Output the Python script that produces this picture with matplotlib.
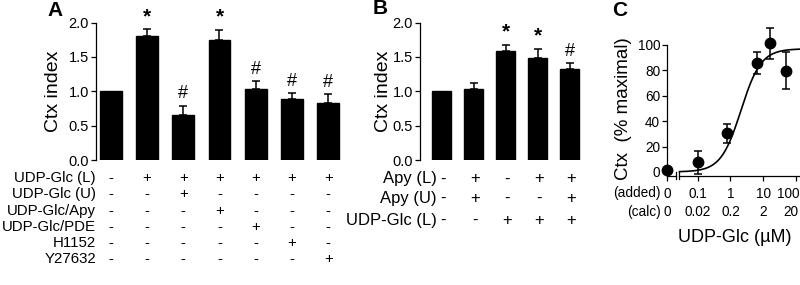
import numpy as np
import matplotlib
matplotlib.use('Agg')
import matplotlib.pyplot as plt
from matplotlib.transforms import blended_transform_factory

plt.rcParams['font.family'] = ['Liberation Sans', 'DejaVu Sans']
plt.rcParams['axes.linewidth'] = 0.9
plt.rcParams['xtick.major.width'] = 0.9
plt.rcParams['ytick.major.width'] = 0.9

# ---------------- data ----------------
# Panel A
a_values = [1.0, 1.81, 0.65, 1.74, 1.04, 0.89, 0.83]
a_errors = [0.0, 0.09, 0.14, 0.15, 0.11, 0.08, 0.13]
a_marks = ['', '*', '#', '*', '#', '#', '#']
a_rows = ['UDP-Glc (L)', 'UDP-Glc (U)', 'UDP-Glc/Apy', 'UDP-Glc/PDE', 'H1152', 'Y27632']
a_table = [
    ['-', '+', '+', '+', '+', '+', '+'],
    ['-', '-', '+', '-', '-', '-', '-'],
    ['-', '-', '-', '+', '-', '-', '-'],
    ['-', '-', '-', '-', '+', '-', '-'],
    ['-', '-', '-', '-', '-', '+', '-'],
    ['-', '-', '-', '-', '-', '-', '+'],
]

# Panel B
b_values = [1.0, 1.03, 1.59, 1.49, 1.33]
b_errors = [0.0, 0.09, 0.08, 0.13, 0.08]
b_marks = ['', '', '*', '*', '#']
b_rows = ['Apy (L)', 'Apy (U)', 'UDP-Glc (L)']
b_table = [
    ['-', '+', '-', '+', '+'],
    ['-', '+', '-', '-', '+'],
    ['-', '-', '+', '+', '+'],
]

# Panel C
c_conc = [0, 0.1, 0.8, 6.3, 16, 50]          # UDP-Glc added (uM)
c_response = [1.6, 7.6, 30.5, 85.8, 101.3, 79.8]
c_sem = [0, 9, 7.5, 9, 12, 14.5]
c_ticks = [0, 0.1, 1, 10, 100]
c_tick_added = ['0', '0.1', '1', '10', '100']
c_tick_calc = ['0', '0.02', '0.2', '2', '20']
c_yticks = [0, 20, 40, 60, 80, 100]
fit_top = 97.0
fit_ec50 = 2.1
fit_hill = 1.42

# ---------------- layout ----------------
W, H = 800, 285
fig = plt.figure(figsize=(W / 100, H / 100), dpi=100)


def fx(x):
    return x / W


def fy(y):
    return 1 - y / H


def box(l, t, r, b):
    return [fx(l), fy(b), fx(r) - fx(l), fy(t) - fy(b)]


TICK_FS = 10.5
LAB_FS = 14
C_FS = 9.8


def bar_panel(ax, values, errors, marks, xlim):
    x = np.arange(len(values))
    ax.bar(x, values, width=0.6, color='black', edgecolor='black')
    for xi, v, e in zip(x, values, errors):
        if e > 0:
            ax.errorbar(xi, v, yerr=[[0], [e]], fmt='none', ecolor='black',
                        elinewidth=1.1, capsize=2.6, capthick=1.1)
    for xi, v, e, m in zip(x, values, errors, marks):
        if m:
            ax.annotate(m, (xi, v + e), xytext=(0, 2.5), textcoords='offset points',
                        ha='center', va='bottom', fontsize=15 if m == '*' else 13,
                        fontweight='bold' if m == '*' else 'normal')
    ax.set_xlim(*xlim)
    ax.set_ylim(0, 2.0)
    ax.set_yticks([0, 0.5, 1.0, 1.5, 2.0])
    ax.set_yticklabels(['0.0', '0.5', '1.0', '1.5', '2.0'], fontsize=TICK_FS)
    ax.tick_params(axis='y', direction='out', length=3.5, pad=1.5)
    ax.set_xticks([])
    for s in ['top', 'right', 'bottom']:
        ax.spines[s].set_visible(False)
    return x


def table(ax, x, rows, table_vals, row_y, label_x, fs, col_dx=0.0):
    tr = blended_transform_factory(ax.transData, fig.transFigure)
    for r, (name, vals) in enumerate(zip(rows, table_vals)):
        yy = fy(row_y[r])
        ax.text(label_x, yy, name, transform=tr, ha='right', va='center', fontsize=fs)
        for xi, s in zip(x, vals):
            ax.text(xi + col_dx, yy, s, transform=tr, ha='center', va='center',
                    fontsize=fs)


# Panel A
axA = fig.add_axes(box(96, 22.6, 343, 160))
xa = bar_panel(axA, a_values, a_errors, a_marks, (-0.41, 6.41))
table(axA, xa, a_rows, a_table, [178, 194, 211, 227, 243, 259], label_x=-0.41, fs=10.8)
fig.text(fx(53), fy(91), 'Ctx index', rotation=90, ha='center', va='center', fontsize=LAB_FS)
fig.text(fx(55), fy(10), 'A', ha='center', va='center', fontsize=15, fontweight='bold')

# Panel B
axB = fig.add_axes(box(420, 22.6, 581, 160))
xb = bar_panel(axB, b_values, b_errors, b_marks, (-0.67, 4.35))
table(axB, xb, b_rows, b_table, [179, 198.5, 220], label_x=-0.14, fs=12, col_dx=0.05)
fig.text(fx(383), fy(91), 'Ctx index', rotation=90, ha='center', va='center', fontsize=LAB_FS)
fig.text(fx(380), fy(9), 'B', ha='center', va='center', fontsize=15, fontweight='bold')

# Panel C
ZERO_POS = -1.93
X_RIGHT = 2.12
BREAK_L, BREAK_R = -1.67, -1.55


def cpos(c):
    return np.log10(c) if c > 0 else ZERO_POS


axC = fig.add_axes(box(667, 45, 800, 175.7))
axC.set_xlim(ZERO_POS, X_RIGHT)
axC.set_ylim(-3, 100)
for s in ['top', 'right', 'bottom']:
    axC.spines[s].set_visible(False)
axC.set_yticks(c_yticks)
axC.set_yticklabels([str(v) for v in c_yticks], fontsize=C_FS)
axC.tick_params(axis='y', direction='out', length=3.5, pad=1.5)
cx = [cpos(c) for c in c_conc]
axC.errorbar(cx, c_response, yerr=c_sem, fmt='o', color='black', markersize=7.5,
             elinewidth=1.1, capsize=2.6, capthick=1.1, clip_on=False, zorder=3)
xc = np.linspace(BREAK_R, X_RIGHT, 300)
conc = 10 ** xc
axC.plot(xc, fit_top / (1 + (fit_ec50 / conc) ** fit_hill), color='black', lw=1.2, clip_on=False)

# broken x axis
trC = blended_transform_factory(axC.transData, axC.transAxes)
axC.plot([ZERO_POS, BREAK_L], [0, 0], color='black', lw=0.9, transform=trC, clip_on=False)
axC.plot([BREAK_R, X_RIGHT], [0, 0], color='black', lw=0.9, transform=trC, clip_on=False)
for bx in [BREAK_L, BREAK_R]:
    axC.plot([bx, bx], [-0.025, 0.025], color='black', lw=0.9, transform=trC, clip_on=False)
axC.set_xticks([cpos(c) for c in c_ticks])
axC.set_xticklabels([])
axC.tick_params(axis='x', direction='out', length=3.5)
trCf = blended_transform_factory(axC.transData, fig.transFigure)
last = len(c_ticks) - 1
for i, (c, la, lc) in enumerate(zip(c_ticks, c_tick_added, c_tick_calc)):
    if i == last:
        axC.text(1.0, fy(193.5), la, transform=fig.transFigure,
                 ha='right', va='center', fontsize=C_FS)
        axC.text(fx(798.5), fy(212), lc, transform=fig.transFigure,
                 ha='right', va='center', fontsize=C_FS)
    else:
        axC.text(cpos(c), fy(193.5), la, transform=trCf, ha='center', va='center', fontsize=C_FS)
        axC.text(cpos(c), fy(212), lc, transform=trCf, ha='center', va='center', fontsize=C_FS)
fig.text(fx(661), fy(193.5), '(added)', ha='right', va='center', fontsize=C_FS)
fig.text(fx(661), fy(212), '(calc)', ha='right', va='center', fontsize=C_FS)
fig.text(fx(735), fy(237), 'UDP-Glc (\u00b5M)', ha='center', va='center', fontsize=13)
fig.text(fx(623), fy(109), 'Ctx  (% maximal)', rotation=90, ha='center', va='center', fontsize=13.5)
fig.text(fx(620), fy(10), 'C', ha='center', va='center', fontsize=15, fontweight='bold')

fig.savefig('out.png', dpi=100)
